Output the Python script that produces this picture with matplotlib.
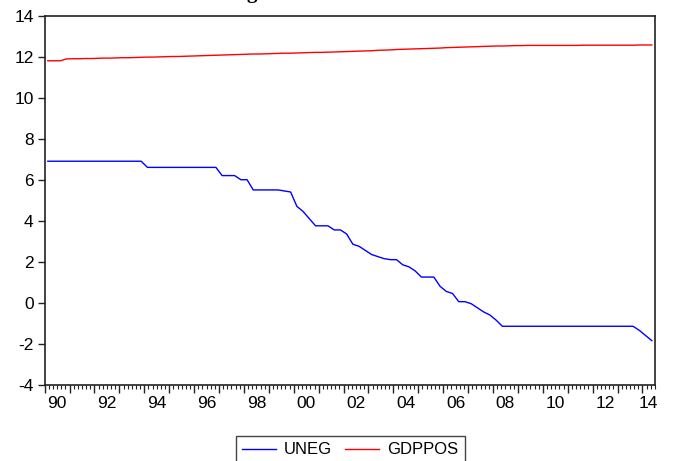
import numpy as np
import matplotlib
matplotlib.use('Agg')
import matplotlib.pyplot as plt

plt.rcParams['font.family'] = ['Liberation Sans', 'DejaVu Sans']

# quarterly observations, 1990Q1 .. 2014Q2
start_year = 1990
uneg = [6.9, 6.9, 6.9, 6.9,
        6.9, 6.9, 6.9, 6.9,
        6.9, 6.9, 6.9, 6.9,
        6.9, 6.9, 6.9, 6.9,
        6.6, 6.6, 6.6, 6.6,
        6.6, 6.6, 6.6, 6.6,
        6.6, 6.6, 6.6, 6.6,
        6.2, 6.2, 6.2, 6.0,
        6.0, 5.5, 5.5, 5.5,
        5.5, 5.5, 5.45, 5.4,
        4.7, 4.45, 4.1, 3.75,
        3.75, 3.75, 3.55, 3.55,
        3.35, 2.85, 2.75, 2.55,
        2.35, 2.25, 2.15, 2.1,
        2.1, 1.85, 1.75, 1.55,
        1.25, 1.25, 1.25, 0.8,
        0.55, 0.45, 0.05, 0.05,
        -0.05, -0.25, -0.45, -0.6,
        -0.85, -1.15, -1.15, -1.15,
        -1.15, -1.15, -1.15, -1.15,
        -1.15, -1.15, -1.15, -1.15,
        -1.15, -1.15, -1.15, -1.15,
        -1.15, -1.15, -1.15, -1.15,
        -1.15, -1.15, -1.15, -1.35,
        -1.6, -1.85]
gdppos = [11.80, 11.80, 11.80, 11.89,
          11.90, 11.90, 11.91, 11.91,
          11.92, 11.93, 11.93, 11.94,
          11.95, 11.95, 11.96, 11.97,
          11.98, 11.98, 11.99, 12.00,
          12.01, 12.01, 12.02, 12.03,
          12.04, 12.05, 12.06, 12.07,
          12.08, 12.09, 12.10, 12.11,
          12.12, 12.13, 12.13, 12.14,
          12.15, 12.16, 12.17, 12.17,
          12.18, 12.19, 12.20, 12.21,
          12.21, 12.22, 12.23, 12.24,
          12.25, 12.26, 12.27, 12.28,
          12.29, 12.31, 12.32, 12.33,
          12.35, 12.36, 12.37, 12.38,
          12.39, 12.40, 12.41, 12.42,
          12.44, 12.45, 12.46, 12.47,
          12.48, 12.49, 12.50, 12.51,
          12.52, 12.52, 12.53, 12.54,
          12.54, 12.55, 12.55, 12.55,
          12.55, 12.55, 12.55, 12.55,
          12.55, 12.55, 12.56, 12.56,
          12.56, 12.56, 12.56, 12.56,
          12.56, 12.56, 12.56, 12.57,
          12.57, 12.57]
year_labels = ['90', '92', '94', '96', '98', '00', '02', '04', '06', '08', '10', '12', '14']
yticks = [-4, -2, 0, 2, 4, 6, 8, 10, 12, 14]

nobs = len(uneg)
t = start_year + (np.arange(nobs) + 0.5) / 4.0
t_end = start_year + nobs / 4.0

fig = plt.figure(figsize=(6.75, 4.61), dpi=100)
ax = fig.add_axes([0.0662, 0.1655, 0.904, 0.8005])

ax.plot(t, uneg, color='#0000ff', lw=1.0, label='UNEG')
ax.plot(t, gdppos, color='#ff0000', lw=1.0, label='GDPPOS')

ax.set_xlim(start_year, t_end)
ax.set_ylim(-4, 14)
ax.set_yticks(yticks)
ax.set_yticklabels([str(v) for v in yticks])

# long ticks at each year, short ones every two months
ax.set_xticks(np.arange(start_year, int(t_end) + 1))
ax.set_xticks(np.arange(start_year, t_end + 1e-6, 1 / 6.0), minor=True)
ax.tick_params(axis='x', which='major', length=6, width=1, labelbottom=False, color='#222222')
ax.tick_params(axis='x', which='minor', length=3, width=0.8, color='#222222')
ax.tick_params(axis='y', length=5, width=1, labelsize=12.5, pad=3, color='#222222')
ax.tick_params(top=False, right=False)

# year labels centred on the visible part of each labelled year
lab_years = [int(('19' if s >= '50' else '20') + s) for s in year_labels]
lab_pos = [(y + min(y + 1, t_end)) / 2.0 for y in lab_years]
sec = ax.secondary_xaxis('bottom')
sec.set_xticks(lab_pos)
sec.set_xticklabels(year_labels)
sec.tick_params(length=0, labelsize=12.5, pad=8)
sec.spines['bottom'].set_visible(False)

for sp in ax.spines.values():
    sp.set_color('#222222')
    sp.set_linewidth(1.2)

# bold serif title sitting above the top edge
fig.text(0.373, 1.0 + 2 / 461, 'g', ha='center', va='baseline', fontsize=15,
         fontweight='bold', family='Liberation Serif')

leg = fig.legend(loc='upper center', bbox_to_anchor=(0.519, 1 - 435.7 / 461), ncol=2,
                 fontsize=12, frameon=True, fancybox=False, edgecolor='#444444',
                 framealpha=1, handlelength=2.0, columnspacing=0.8, borderpad=0.4,
                 handletextpad=0.5, borderaxespad=0)
leg.get_frame().set_linewidth(1.0)

fig.savefig('out.png', dpi=100)
